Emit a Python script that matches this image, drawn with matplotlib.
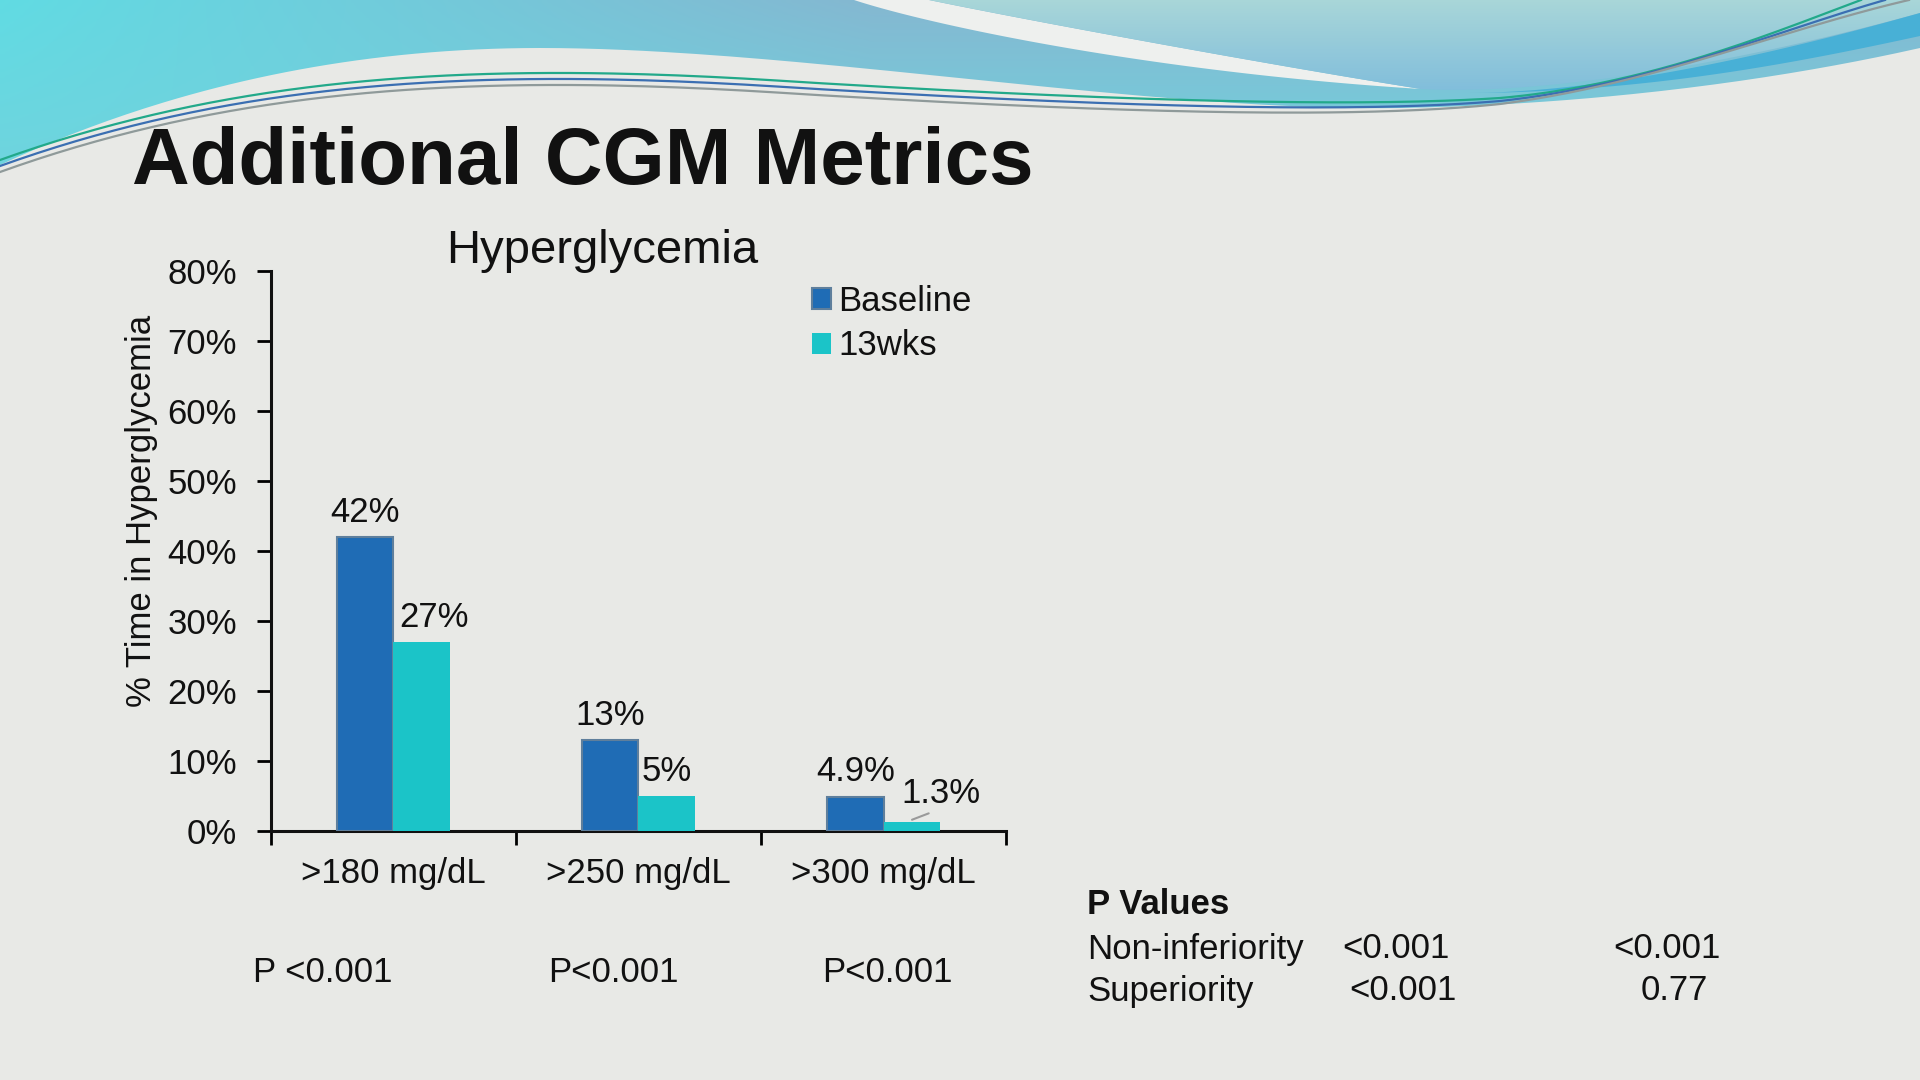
import numpy as np
import matplotlib.pyplot as plt
from matplotlib.path import Path
from matplotlib.patches import PathPatch, Polygon

plt.rcParams['font.family'] = ['Liberation Sans', 'DejaVu Sans']

# -------------------------------
# Data
# -------------------------------
categories = ['>180 mg/dL', '>250 mg/dL', '>300 mg/dL']
baseline = [42, 13, 4.9]
wks13 = [27, 5, 1.3]
baseline_labels = ['42%', '13%', '4.9%']
wks13_labels = ['27%', '5%', '1.3%']
yticks = [0, 10, 20, 30, 40, 50, 60, 70, 80]
p_values = ['P <0.001', 'P<0.001', 'P<0.001']
pv_rows = ['Non-inferiority', 'Superiority']
pv_col1 = ['<0.001', '<0.001']
pv_col2 = ['<0.001', '0.77']

BLUE = '#1f6cb5'
TEAL = '#1bc4c8'
TXT = '#111111'
FS = 25

fig = plt.figure(figsize=(19.2, 10.8), dpi=100)
fig.patch.set_facecolor('#e8e9e6')


# -------------------------------
# Background waves (pixel coords)
# -------------------------------
def bez(p0, p1, p2, p3, n=80):
    t = np.linspace(0, 1, n)[:, None]
    p0, p1, p2, p3 = map(np.asarray, (p0, p1, p2, p3))
    return (1 - t) ** 3 * p0 + 3 * (1 - t) ** 2 * t * p1 + 3 * (1 - t) * t ** 2 * p2 + t ** 3 * p3


bg = fig.add_axes([0, 0, 1, 1], zorder=-5)
bg.set_xlim(0, 1920)
bg.set_ylim(1080, 0)
bg.axis('off')

# teal region with gradient
teal_edge = np.vstack([
    [[0, 0]],
    bez((0, 165), (150, 95), (330, 48), (540, 48)),
    bez((540, 48), (800, 48), (1150, 112), (1400, 108)),
    bez((1400, 108), (1620, 104), (1800, 75), (1920, 48)),
    [[1920, 0]],
])
gx, gy = np.meshgrid(np.linspace(0, 1, 400), np.linspace(0, 1, 60))
left_c = np.array([0.38, 0.86, 0.89])
mid_c = np.array([0.52, 0.72, 0.82])
low_c = np.array([0.44, 0.83, 0.87])
tx = np.clip(gx * 2.2, 0, 1)[..., None]
ty = gy[..., None]
img = left_c * (1 - tx) + mid_c * tx
img = img * (1 - ty) + low_c * ty
im = bg.imshow(img, extent=(0, 1920, 180, 0), aspect='auto', zorder=1)
teal_patch = PathPatch(Path(teal_edge), facecolor='none', edgecolor='none')
bg.add_patch(teal_patch)
im.set_clip_path(teal_patch)

# white crescent
cres = np.vstack([
    bez((854, 0), (930, 25), (1150, 72), (1421, 89)),
    bez((1421, 89), (1300, 70), (1050, 25), (929, 0)),
])
bg.add_patch(Polygon(cres, closed=True, facecolor='#eef0ee', edgecolor='none', zorder=2))

# pale region at top right with gradient
pale_edge = np.vstack([
    bez((929, 0), (1050, 25), (1300, 70), (1421, 89)),
    bez((1421, 89), (1550, 96), (1750, 60), (1920, 13)),
    [[1920, 0]],
])
py = np.linspace(0, 1, 60)[:, None, None] * np.ones((1, 10, 1))
img2 = np.array([0.66, 0.84, 0.85]) * (1 - py) + np.array([0.50, 0.74, 0.86]) * py
im2 = bg.imshow(img2, extent=(900, 1920, 95, 0), aspect='auto', zorder=3)
pale_patch = PathPatch(Path(pale_edge), facecolor='none', edgecolor='none')
bg.add_patch(pale_patch)
im2.set_clip_path(pale_patch)

# blue band
band = np.vstack([
    bez((1470, 93), (1600, 92), (1760, 58), (1920, 13)),
    bez((1920, 36), (1800, 62), (1650, 92), (1470, 93)),
])
bg.add_patch(Polygon(band, closed=True, facecolor='#48b0d6', edgecolor='none', zorder=4))

# thin wires
wires = [('#22a98a', 0), ('#3b6fb2', 6), ('#8f9a9a', 12)]
for col, dy in wires:
    pts = np.vstack([
        bez((0, 160 + dy), (250, 70 + dy), (500, 62 + dy), (800, 82 + dy)),
        bez((800, 82 + dy), (1100, 100 + dy), (1350, 108 + dy), (1500, 98 + dy / 2)),
        bez((1500, 98 + dy / 2), (1650, 85), (1780, 30), (1861 + dy * 4, 0)),
    ])
    bg.plot(pts[:, 0], pts[:, 1], color=col, lw=1.6, zorder=5)

# -------------------------------
# Titles
# -------------------------------
fig.text(132 / 1920, 1 - 184 / 1080, 'Additional CGM Metrics', fontsize=57.5,
         fontweight='bold', color=TXT, va='baseline', ha='left')
fig.text(602 / 1920, 1 - 251 / 1080, 'Hyperglycemia', fontsize=34, color=TXT,
         ha='center', va='center')

# -------------------------------
# Bar chart
# -------------------------------
ax = fig.add_axes([0.1409, 0.2306, 0.3833, 0.5188])
ax.set_facecolor('none')
x = np.arange(len(categories))
w = 0.23
b1 = ax.bar(x - w / 2, baseline, w, color=BLUE, edgecolor='#5f7f9c', linewidth=1.5,
            label='Baseline', zorder=3)
b2 = ax.bar(x + w / 2, wks13, w, color=TEAL, edgecolor='none', label='13wks', zorder=3)

ax.set_xlim(-0.5, 2.5)
ax.set_ylim(0, 80)
for s in ['top', 'right']:
    ax.spines[s].set_visible(False)
for s in ['left', 'bottom']:
    ax.spines[s].set_linewidth(2.2)
    ax.spines[s].set_color(TXT)

ax.set_yticks(yticks)
ax.set_yticklabels([f'{v}%' for v in yticks])
ax.tick_params(axis='y', direction='out', length=10, width=2, pad=14,
               labelsize=FS, labelcolor=TXT)
ax.set_xticks([-0.5, 0.5, 1.5, 2.5])
ax.set_xticklabels([])
ax.tick_params(axis='x', which='major', direction='out', length=10, width=2)
ax.set_xticks(x, minor=True)
ax.set_xticklabels(categories, minor=True)
ax.tick_params(axis='x', which='minor', length=0, pad=19, labelsize=FS, labelcolor=TXT)

ax.text(-0.175, 0.571, '% Time in Hyperglycemia', transform=ax.transAxes, rotation=90,
        ha='center', va='center', fontsize=FS, color=TXT)

# value labels (nudges in points)
dx_base = [0, 0, 0]
dx_13 = [9, 0, 21]
for i in range(len(categories)):
    ax.annotate(baseline_labels[i], (x[i] - w / 2, baseline[i]), xytext=(dx_base[i], 11),
                textcoords='offset points', ha='center', va='baseline', fontsize=FS, color=TXT)
    if i == 2:
        ax.annotate(wks13_labels[i], (x[i] + w / 2, wks13[i] + 0.3), xytext=(dx_13[i], 12),
                    textcoords='offset points', ha='center', va='baseline', fontsize=FS,
                    color=TXT, arrowprops=dict(arrowstyle='-', color='#9a9a9a', lw=1.5,
                                               shrinkA=1, shrinkB=0, relpos=(0.45, 0.0)))
    else:
        ax.annotate(wks13_labels[i], (x[i] + w / 2, wks13[i]), xytext=(dx_13[i], 11),
                    textcoords='offset points', ha='center', va='baseline', fontsize=FS, color=TXT)

ax.legend(handles=[b1, b2], loc='upper left', bbox_to_anchor=(812 / 1920, 1 - 285 / 1080),
          bbox_transform=fig.transFigure, frameon=False, fontsize=FS, handlelength=0.55,
          handleheight=0.55, handletextpad=0.2, labelspacing=0.33, borderpad=0,
          borderaxespad=0, labelcolor=TXT)

# -------------------------------
# P values
# -------------------------------
p_x = [323, 613, 887]
for px, pv in zip(p_x, p_values):
    fig.text(px / 1920, 1 - 973 / 1080, pv, fontsize=FS, color=TXT, ha='center', va='center')

fig.text(1087 / 1920, 1 - 904 / 1080, 'P Values', fontsize=FS, fontweight='bold',
         color=TXT, ha='left', va='center')
row_y = [949, 991]
col1_x = [1342, 1349]
col2_x = [1613, 1641]
for i in range(len(pv_rows)):
    yy = 1 - row_y[i] / 1080
    fig.text(1087 / 1920, yy, pv_rows[i], fontsize=FS, color=TXT, ha='left', va='center')
    fig.text(col1_x[i] / 1920, yy, pv_col1[i], fontsize=FS, color=TXT, ha='left', va='center')
    fig.text(col2_x[i] / 1920, yy, pv_col2[i], fontsize=FS, color=TXT, ha='left', va='center')

fig.savefig('out.png', dpi=100, facecolor=fig.get_facecolor())
